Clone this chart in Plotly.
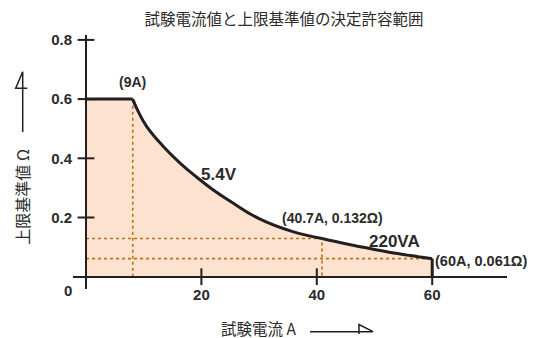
import plotly.graph_objects as go

# ---------------- data ----------------
title_text = "試験電流値と上限基準値の決定許容範囲"
x_title = "試験電流 A"
y_title = "上限基準値 Ω"

x_tick_vals = [20, 40, 60]
x_tick_text = ["20", "40", "60"]
y_tick_vals = [0.2, 0.4, 0.6, 0.8]
y_tick_text = ["0.2", "0.4", "0.6", "0.8"]
origin_label = "0"

# flat part (upper limit 0.6 Ω up to the 9A knee)
flat_x = [0, 8.1]
flat_y = [0.6, 0.6]
# 5.4 V constant-voltage part
curve_v_x = [8.1, 9.0, 10.5, 13.4, 16.3, 19.2, 22.0, 25.0, 30.0, 35.7, 40.9]
curve_v_y = [0.600, 0.560, 0.508, 0.440, 0.384, 0.336, 0.294, 0.255, 0.196, 0.153, 0.129]
# 220 VA constant-power part
curve_p_x = [40.9, 45.0, 50.0, 55.0, 60.0]
curve_p_y = [0.129, 0.111, 0.092, 0.075, 0.061]
# drop at 60 A
drop_x = [60.0, 60.0]
drop_y = [0.061, 0.0]

# dotted guide lines
knee1_x, knee1_y = 8.1, 0.6
knee2_x, knee2_y = 40.9, 0.129
end_x, end_y = 60.0, 0.061

labels = ["(9A)", "5.4V", "(40.7A, 0.132Ω)", "220VA", "(60A, 0.061Ω)"]

# ---------------- layout geometry ----------------
W, H = 545, 338
ML, MR, MT, MB = 73, 38, 35, 49
PW, PH = W - ML - MR, H - MT - MB
x_range = [-13 / 5.77, 421 / 5.77]
y_range = [-12.3 / 296, 241.7 / 296]


def px_x(px):
    return (px - ML) / PW


def px_y(py):
    return (H - MB - py) / PH


INK = "#231f20"
TXT = "#2b2b2b"
FILL = "#fde3cf"
DOT = "#b8721c"
LAT = "Liberation Sans, Arial, Noto Sans CJK JP, sans-serif"
CJK = "Noto Sans CJK JP, sans-serif"

fig = go.Figure()

# filled allowed region
fill_x = [0] + flat_x + curve_v_x + curve_p_x + drop_x
fill_y = [0] + flat_y + curve_v_y + curve_p_y + drop_y
fig.add_trace(go.Scatter(x=fill_x, y=fill_y, fill="toself", fillcolor=FILL,
                         line=dict(width=0), mode="lines", hoverinfo="skip"))

# dotted guides
dot = dict(color=DOT, width=1.6, dash="dot")
fig.add_trace(go.Scatter(x=[knee1_x, knee1_x], y=[0, knee1_y], mode="lines", line=dot))
fig.add_trace(go.Scatter(x=[0, knee2_x, knee2_x], y=[knee2_y, knee2_y, 0], mode="lines", line=dot))
fig.add_trace(go.Scatter(x=[0, end_x], y=[end_y, end_y], mode="lines", line=dot))

# boundary line
fig.add_trace(go.Scatter(x=flat_x, y=flat_y, mode="lines", line=dict(color=INK, width=3)))
fig.add_trace(go.Scatter(x=curve_v_x, y=curve_v_y, mode="lines",
                         line=dict(color=INK, width=3, shape="spline", smoothing=1.3)))
fig.add_trace(go.Scatter(x=curve_p_x, y=curve_p_y, mode="lines",
                         line=dict(color=INK, width=3, shape="spline", smoothing=1.0)))
fig.add_trace(go.Scatter(x=drop_x, y=drop_y, mode="lines", line=dict(color=INK, width=3)))

# cross tick marks
fig.add_trace(go.Scatter(x=x_tick_vals, y=[0] * len(x_tick_vals), mode="markers",
                         marker=dict(symbol="line-ns", size=12, line=dict(color=INK, width=2)),
                         cliponaxis=False))
fig.add_trace(go.Scatter(x=[0] * len(y_tick_vals), y=y_tick_vals, mode="markers",
                         marker=dict(symbol="line-ew", size=12, line=dict(color=INK, width=2)),
                         cliponaxis=False))

ann = []
ann.append(dict(x=knee1_x, y=knee1_y, text=labels[0], showarrow=False, yshift=17,
                font=dict(family=LAT, size=14, color=TXT, weight="bold")))
ann.append(dict(x=23.05, y=0.344, text=labels[1], showarrow=False,
                font=dict(family=LAT, size=17, color=TXT, weight="bold")))
ann.append(dict(x=42.8, y=0.2, text=labels[2], showarrow=False,
                font=dict(family=LAT, size=14, color=TXT, weight="bold")))
ann.append(dict(x=53.55, y=0.1206, text=labels[3], showarrow=False,
                font=dict(family=LAT, size=17, color=TXT, weight="bold")))
ann.append(dict(x=end_x, y=end_y, text=labels[4], showarrow=False, xanchor="left", xshift=1,
                yshift=-2, font=dict(family=LAT, size=14.5, color=TXT, weight="bold")))
ann.append(dict(x=0, y=0, text=origin_label, showarrow=False, xshift=-18.5, yshift=-13.5,
                font=dict(family=LAT, size=15, color=TXT, weight="bold")))
# axis titles
ann.append(dict(xref="paper", yref="paper", x=px_x(21.7), y=px_y(197), text=y_title,
                xanchor="center", yanchor="middle",
                textangle=-90, showarrow=False, font=dict(family=CJK, size=16, color=TXT)))
ann.append(dict(xref="paper", yref="paper", x=px_x(258), y=px_y(328), text=x_title,
                xanchor="center", yanchor="middle",
                showarrow=False, font=dict(family=CJK, size=15.5, color=TXT)))

# axis arrows (decoration)
def path(points):
    s = "M " + " L ".join(f"{px_x(a):.5f},{px_y(b):.5f}" for a, b in points)
    return s


shapes = [
    dict(type="path", xref="paper", yref="paper",
         path=path([(22.7, 132), (22.7, 71.7), (15.7, 88.3), (27.3, 88.3)]),
         line=dict(color=INK, width=1.5)),
    dict(type="path", xref="paper", yref="paper",
         path=path([(310, 331.7), (373, 331.7), (359, 324.5), (359, 334)]),
         line=dict(color=INK, width=1.5)),
]

pos_x_axis = (0 - y_range[0]) / (y_range[1] - y_range[0])
pos_y_axis = (0 - x_range[0]) / (x_range[1] - x_range[0])

fig.update_layout(
    template="none",
    width=W, height=H, margin=dict(l=ML, r=MR, t=MT, b=MB, autoexpand=False),
    paper_bgcolor="white", plot_bgcolor="white", showlegend=False,
    title=dict(text=title_text, x=284 / W, xanchor="center", y=1 - 20 / H, yanchor="middle",
               font=dict(family=CJK, size=15.5, color=TXT)),
    xaxis=dict(range=x_range, showgrid=False, zeroline=False, showline=True, automargin=False,
               linecolor=INK, linewidth=2, anchor="free", position=pos_x_axis,
               tickmode="array", tickvals=x_tick_vals, ticktext=x_tick_text, ticks="",
               ticklabelstandoff=4, tickfont=dict(family=LAT, size=15, color=TXT, weight="bold")),
    yaxis=dict(range=y_range, showgrid=False, zeroline=False, showline=True, automargin=False,
               linecolor=INK, linewidth=2, anchor="free", position=pos_y_axis,
               tickmode="array", tickvals=y_tick_vals, ticktext=y_tick_text, ticks="",
               ticklabelstandoff=10, tickfont=dict(family=LAT, size=15, color=TXT, weight="bold")),
    annotations=ann, shapes=shapes,
)

fig.write_html(
    "out.html",
    config={"displayModeBar": False},
    post_script="document.body.style.margin='0';document.body.style.padding='0';",
)
